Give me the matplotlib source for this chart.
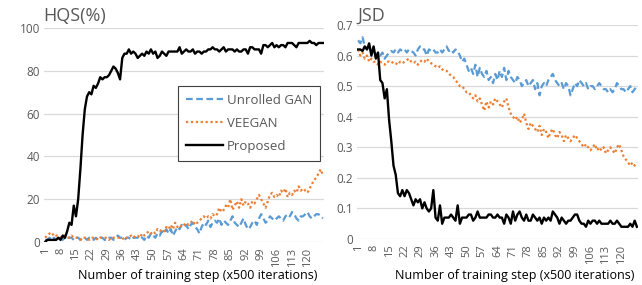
"""HQS / JSD training curves: Unrolled GAN vs VEEGAN vs Proposed."""

import matplotlib
matplotlib.use("Agg")
import matplotlib.pyplot as plt
import numpy as np

plt.rcParams["font.family"] = ["Open Sans", "DejaVu Sans"]

# --- data ---------------------------------------------------------------
steps = list(range(1, 128))
tick_steps = list(range(1, 121, 7))

hqs_unrolled = [
    1, 1, 2, 1, 2, 1, 2, 2, 1, 2, 3, 2, 2, 1, 2, 2, 1, 2, 2, 1,
    2, 2, 1, 2, 1, 2, 2, 1, 1, 2, 2, 1, 2, 3, 2, 2, 1, 2, 2, 1,
    2, 2, 2, 3, 2, 1, 3, 2, 4, 3, 2, 4, 3, 5, 4, 6, 4, 6, 3, 5,
    7, 6, 8, 7, 8, 6, 8, 9, 7, 6, 4, 7, 9, 8, 10, 7, 9, 10, 9, 11,
    8, 10, 9, 8, 10, 12, 9, 8, 7, 9, 11, 8, 6, 7, 9, 10, 8, 11, 13, 11,
    9, 10, 12, 11, 10, 11, 12, 11, 10, 12, 13, 12, 14, 13, 11, 10, 12, 12, 13, 14,
    12, 11, 12, 13, 13, 12, 11,
]
hqs_veegan = [
    2, 3, 4, 3, 4, 3, 3, 2, 3, 3, 2, 2, 3, 2, 2, 2, 1, 2, 2, 2,
    1, 2, 2, 2, 1, 2, 2, 2, 2, 1, 2, 2, 2, 2, 2, 2, 1, 2, 2, 3,
    2, 3, 3, 2, 4, 3, 4, 5, 4, 5, 4, 6, 5, 6, 5, 7, 6, 8, 6, 9,
    7, 8, 7, 8, 9, 8, 9, 10, 8, 9, 10, 11, 12, 11, 12, 11, 13, 12, 13, 16,
    14, 15, 17, 16, 20, 15, 17, 19, 16, 20, 17, 19, 18, 16, 19, 18, 20, 22, 20, 18,
    16, 19, 22, 23, 21, 22, 21, 24, 23, 25, 21, 23, 22, 24, 23, 26, 24, 25, 24, 23,
    25, 27, 29, 30, 32, 34, 31,
]
hqs_proposed = [
    0, 1, 1, 1, 1, 1, 2, 1, 3, 2, 5, 9, 8, 17, 12, 20, 34, 50, 62, 68,
    70, 69, 73, 72, 74, 77, 76, 77, 77, 78, 80, 82, 81, 79, 76, 86, 88, 88, 90, 88,
    89, 88, 86, 87, 88, 87, 89, 88, 90, 88, 89, 86, 87, 89, 88, 87, 89, 89, 89, 89,
    89, 91, 88, 89, 90, 89, 89, 90, 88, 89, 89, 88, 89, 89, 90, 90, 91, 90, 90, 89,
    90, 91, 89, 90, 90, 90, 89, 90, 89, 89, 90, 90, 88, 91, 91, 90, 90, 90, 88, 92,
    92, 91, 92, 93, 91, 92, 91, 92, 92, 91, 93, 93, 93, 92, 91, 93, 93, 93, 93, 93,
    94, 93, 93, 92, 93, 93, 93,
]

jsd_unrolled = [
    0.65, 0.64, 0.66, 0.63, 0.62, 0.63, 0.61, 0.62, 0.60, 0.61,
    0.60, 0.61, 0.59, 0.60, 0.61, 0.615, 0.61, 0.62, 0.61, 0.62,
    0.615, 0.62, 0.61, 0.62, 0.615, 0.61, 0.60, 0.62, 0.63, 0.62,
    0.62, 0.60, 0.62, 0.615, 0.62, 0.61, 0.61, 0.62, 0.61, 0.62,
    0.63, 0.615, 0.62, 0.61, 0.62, 0.615, 0.60, 0.58, 0.59, 0.57,
    0.55, 0.56, 0.54, 0.57, 0.53, 0.56, 0.54, 0.53, 0.55, 0.52,
    0.53, 0.51, 0.54, 0.52, 0.55, 0.53, 0.56, 0.52, 0.55, 0.53,
    0.52, 0.51, 0.53, 0.52, 0.50, 0.51, 0.52, 0.50, 0.51, 0.52,
    0.49, 0.51, 0.47, 0.50, 0.51, 0.50, 0.52, 0.53, 0.54, 0.52,
    0.51, 0.50, 0.51, 0.49, 0.51, 0.50, 0.47, 0.49, 0.51, 0.50,
    0.52, 0.51, 0.50, 0.51, 0.49, 0.50, 0.50, 0.49, 0.50, 0.51,
    0.50, 0.49, 0.49, 0.48, 0.49, 0.48, 0.49, 0.51, 0.50, 0.49,
    0.49, 0.48, 0.49, 0.50, 0.48, 0.49, 0.50,
]
jsd_veegan = [
    0.62, 0.60, 0.61, 0.59, 0.60, 0.58, 0.59, 0.58, 0.58, 0.57,
    0.58, 0.575, 0.57, 0.58, 0.58, 0.575, 0.58, 0.575, 0.57, 0.58,
    0.575, 0.58, 0.585, 0.59, 0.58, 0.575, 0.58, 0.57, 0.58, 0.585,
    0.58, 0.59, 0.58, 0.575, 0.57, 0.565, 0.56, 0.565, 0.555, 0.55,
    0.55, 0.54, 0.535, 0.53, 0.52, 0.51, 0.50, 0.50, 0.49, 0.48,
    0.48, 0.47, 0.46, 0.47, 0.45, 0.46, 0.44, 0.42, 0.45, 0.43,
    0.45, 0.44, 0.46, 0.45, 0.44, 0.43, 0.45, 0.46, 0.43, 0.41,
    0.40, 0.39, 0.40, 0.38, 0.39, 0.41, 0.38, 0.36, 0.38, 0.37,
    0.36, 0.35, 0.37, 0.34, 0.36, 0.35, 0.33, 0.35, 0.36, 0.34,
    0.33, 0.35, 0.34, 0.32, 0.34, 0.33, 0.32, 0.33, 0.34, 0.33,
    0.32, 0.31, 0.30, 0.31, 0.30, 0.29, 0.30, 0.31, 0.29, 0.30,
    0.29, 0.30, 0.28, 0.29, 0.30, 0.29, 0.28, 0.30, 0.31, 0.29,
    0.27, 0.26, 0.25, 0.24, 0.25, 0.24, 0.25,
]
jsd_proposed = [
    0.62, 0.62, 0.615, 0.63, 0.62, 0.64, 0.60, 0.63, 0.59, 0.61,
    0.52, 0.51, 0.46, 0.49, 0.39, 0.32, 0.24, 0.21, 0.15, 0.14,
    0.16, 0.14, 0.16, 0.15, 0.13, 0.11, 0.13, 0.12, 0.13, 0.10,
    0.12, 0.10, 0.09, 0.10, 0.16, 0.07, 0.06, 0.11, 0.05, 0.07,
    0.07, 0.07, 0.08, 0.07, 0.06, 0.11, 0.05, 0.07, 0.07, 0.07,
    0.08, 0.08, 0.06, 0.07, 0.09, 0.07, 0.07, 0.07, 0.07, 0.08,
    0.08, 0.07, 0.07, 0.08, 0.07, 0.07, 0.05, 0.08, 0.07, 0.05,
    0.09, 0.06, 0.08, 0.09, 0.07, 0.06, 0.08, 0.06, 0.06, 0.08,
    0.07, 0.06, 0.07, 0.05, 0.07, 0.06, 0.07, 0.06, 0.09, 0.08,
    0.07, 0.05, 0.07, 0.06, 0.05, 0.06, 0.06, 0.07, 0.08, 0.08,
    0.06, 0.05, 0.05, 0.04, 0.06, 0.05, 0.06, 0.06, 0.05, 0.06,
    0.05, 0.05, 0.05, 0.05, 0.06, 0.05, 0.05, 0.06, 0.05, 0.04,
    0.04, 0.04, 0.04, 0.05, 0.04, 0.06, 0.04,
]

labels = ["Unrolled GAN", "VEEGAN", "Proposed"]

# --- styling ------------------------------------------------------------
BLUE = "#5B9BD5"
ORANGE = "#ED7D31"
GRID = "#D9D9D9"
TXT = "#595959"
W, H = 642, 285

fig = plt.figure(figsize=(W / 100, H / 100), dpi=100)


def px_axes(x0, x1, y_top, y_bot):
    return fig.add_axes([x0 / W, 1 - y_bot / H, (x1 - x0) / W, (y_bot - y_top) / H])


def style(ax, ymax, ystep, fmt):
    for s in ax.spines.values():
        s.set_visible(False)
    ax.set_xlim(0.5, len(steps) + 0.5)
    ax.set_ylim(0, ymax)
    yt = np.arange(0, ymax + ystep / 2, ystep)
    ax.set_yticks(yt)
    ax.set_yticklabels([fmt(v) for v in yt])
    ax.set_xticks(tick_steps)
    ax.set_xticklabels([str(t) for t in tick_steps], rotation=90)
    ax.grid(axis="y", color=GRID, lw=0.9)
    ax.set_axisbelow(True)
    ax.tick_params(length=0, colors=TXT, labelsize=8.5, pad=3)
    ax.tick_params(axis="x", pad=4, labelsize=8)


def draw(ax, u, v, p):
    ax.plot(steps, u, color=BLUE, lw=1.6, ls=(0, (3, 1.6)), label=labels[0])
    ax.plot(steps, v, color=ORANGE, lw=1.6, ls=(0, (1, 1.2)), label=labels[1])
    ax.plot(steps, p, color="black", lw=1.7, label=labels[2])


# left: HQS
ax1 = px_axes(44, 324, 28, 242)
style(ax1, 100, 20, lambda v: f"{v:.0f}")
draw(ax1, hqs_unrolled, hqs_veegan, hqs_proposed)
fig.text(43 / W, 1 - 16 / H, "HQS(%)", fontsize=13, color=TXT, va="center")
fig.text(198 / W, 1 - 276 / H, "Number of training step (x500 iterations)",
         fontsize=9, color="black", ha="center", va="center")

leg = ax1.legend(loc="upper left", bbox_to_anchor=(178 / W, 1 - 86 / H),
                 bbox_transform=fig.transFigure, fontsize=9.5, frameon=True,
                 fancybox=False, edgecolor="#404040", framealpha=1,
                 handlelength=2.8, labelspacing=0.75, borderpad=0.6,
                 handletextpad=0.3, borderaxespad=0)
leg.get_frame().set_linewidth(0.8)
for t in leg.get_texts():
    t.set_color(TXT)

# right: JSD
ax2 = px_axes(357, 638, 25, 239)
style(ax2, 0.7, 0.1, lambda v: "0" if v == 0 else f"{v:.1f}")
draw(ax2, jsd_unrolled, jsd_veegan, jsd_proposed)
fig.text(357 / W, 1 - 16 / H, "JSD", fontsize=13, color=TXT, va="center")
fig.text(515 / W, 1 - 275 / H, "Number of training step (x500 iterations)",
         fontsize=9, color="black", ha="center", va="center")

fig.savefig("out.png", dpi=100)
